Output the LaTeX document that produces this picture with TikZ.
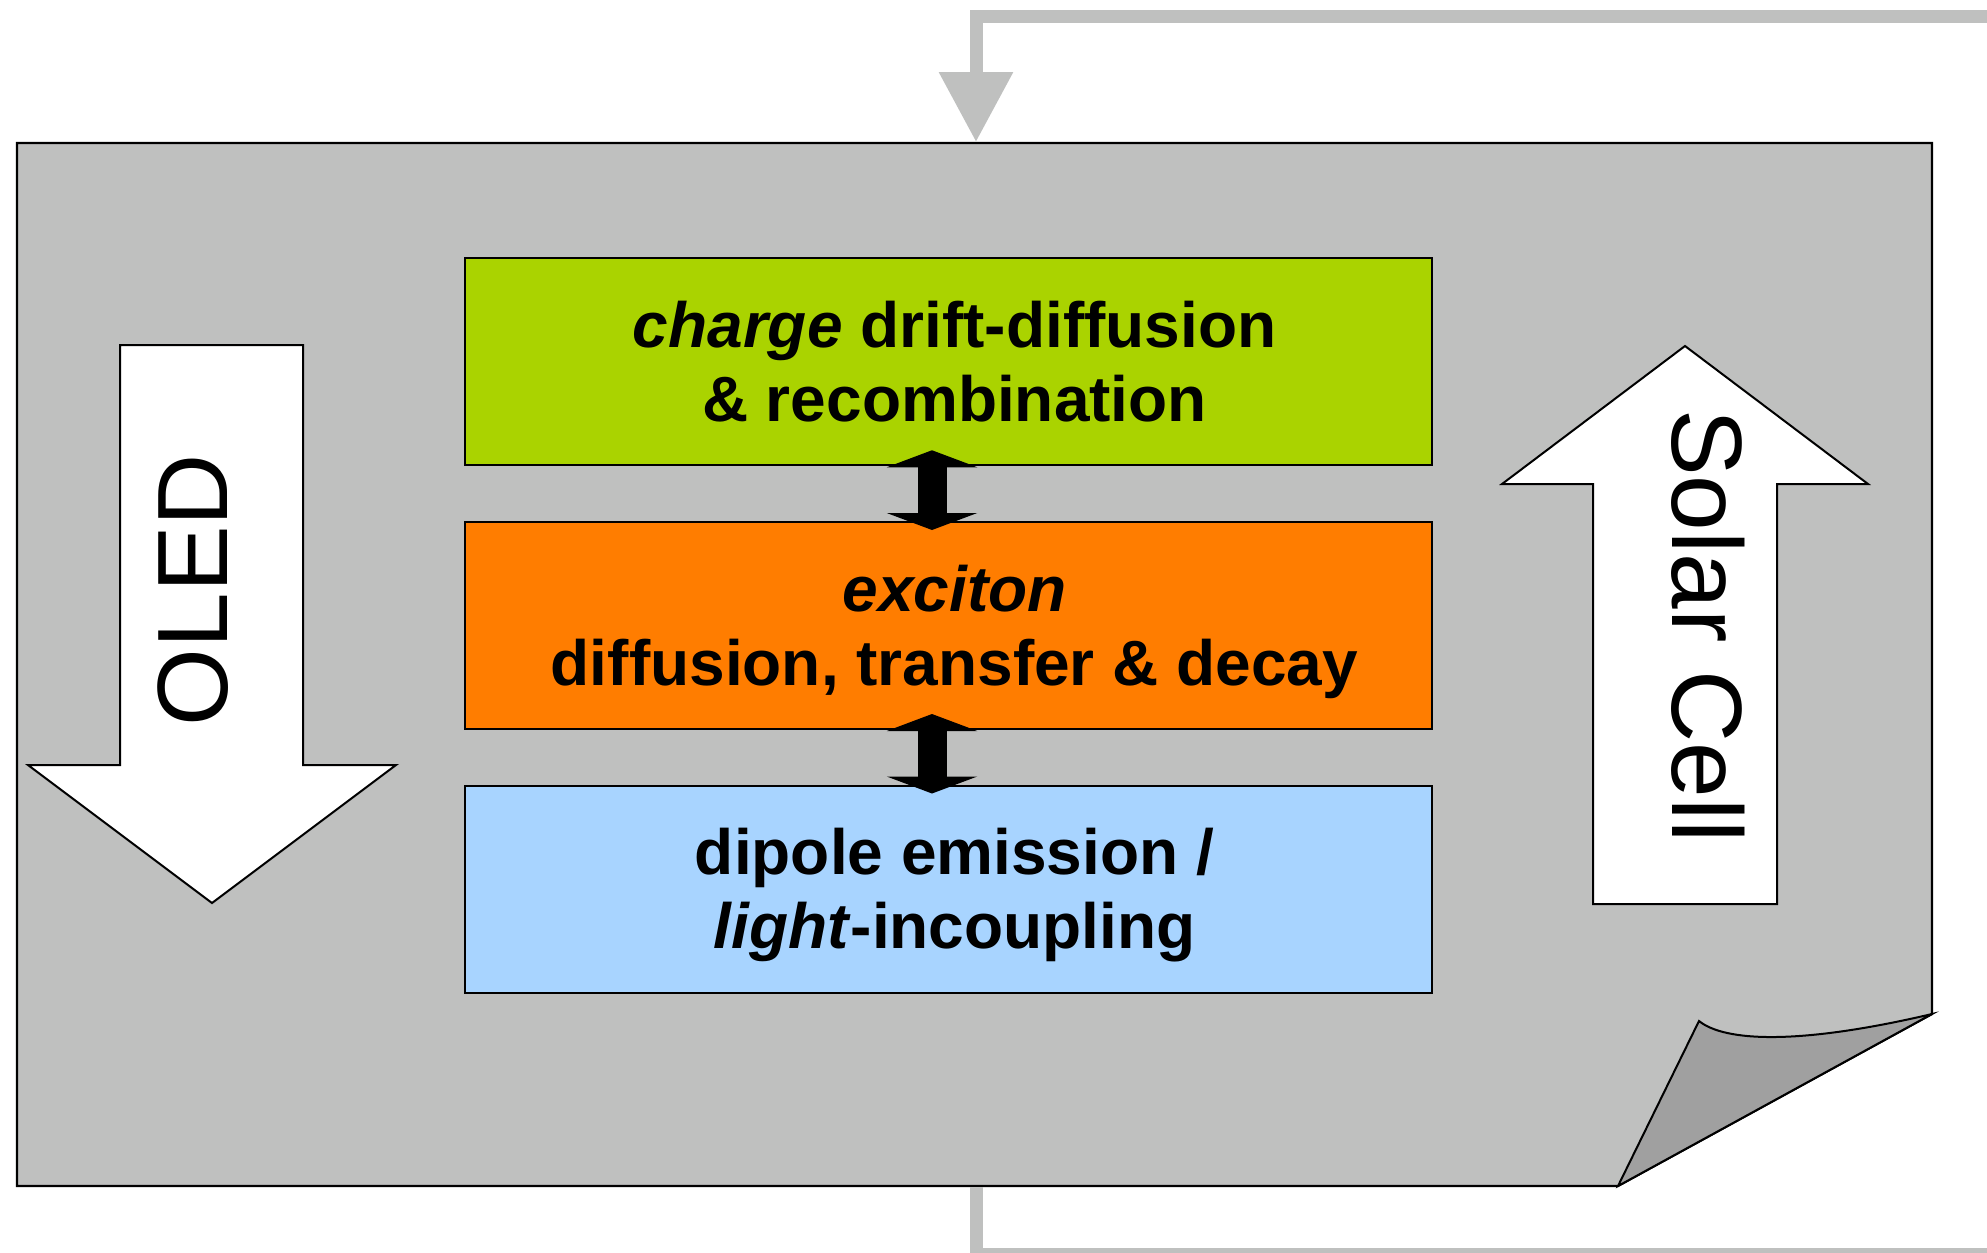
\documentclass[tikz,border=0pt]{standalone}
\usepackage{fontspec}
\setmainfont{Liberation Sans}
\usetikzlibrary{arrows.meta,calc}
\definecolor{sheetgray}{RGB}{191,192,191}
\definecolor{curlgray}{RGB}{160,160,160}
\definecolor{cgreen}{RGB}{170,211,0}
\definecolor{corange}{RGB}{255,125,0}
\definecolor{cblue}{RGB}{168,212,255}
\tikzset{
  boxstyle/.style={draw=black, line width=2pt, inner sep=0pt, minimum width=967pt, minimum height=207pt},
  boxtext/.style={inner sep=0pt, align=center, font=\fontsize{64}{74}\selectfont\bfseries, xshift=6pt, yshift=-8pt},
  conn/.style={draw=sheetgray, line width=13pt},
  bigarrow/.style={draw=black, fill=white, line width=2pt, line join=miter},
  dblarrow/.style={line width=29pt, {Triangle[length=17pt,width=90pt]}-{Triangle[length=17pt,width=90pt]}},
  sidetext/.style={inner sep=0pt, font=\fontsize{100}{110}\selectfont}
}
\begin{document}
\begin{tikzpicture}[x=1pt,y=-1pt]
\useasboundingbox (0,0) rectangle (1987,1253);
% sheet
\draw[fill=sheetgray, line width=2.2pt] (17,143) -- (1932,143) -- (1932,1014) -- (1618,1186) -- (17,1186) -- cycle;
% curl
\draw[fill=curlgray, line width=2pt, line join=miter] (1618,1186) -- (1699,1021) .. controls (1725,1042) and (1800,1045) .. (1932,1014) -- cycle;
% connectors
\coordinate (topR) at (2010,16);
\coordinate (topC) at (976,16);
\coordinate (sheetTop) at (976,142);
\coordinate (sheetBot) at (976,1187);
\coordinate (botC) at (976,1254);
\coordinate (botR) at (2010,1254);
\draw[conn, -{Triangle[length=70pt,width=71pt]}] (topR) -- (topC) -- (sheetTop);
\draw[conn] (sheetBot) -- (botC) -- (botR);
% big arrows
\draw[bigarrow] (120,345) -- (303,345) -- (303,765) -- (396,765) -- (212,903) -- (28,765) -- (120,765) -- cycle;
\draw[bigarrow] (1593,904) -- (1777,904) -- (1777,484) -- (1868,484) -- (1685,346) -- (1502,484) -- (1593,484) -- cycle;
\node[sidetext, rotate=90] (oled) at (193,590) {OLED};
\node[sidetext, rotate=-90] (solar) at (1708,626) {Solar Cell};
% boxes
\node[boxstyle, fill=cgreen] (g) at (948.5,361.75) {};
\node[boxstyle, fill=corange] (o) at (948.5,625.5) {};
\node[boxstyle, fill=cblue] (b) at (948.5,889) {};
\node[boxtext] (gt) at (g.center) {\strut\textit{charge} drift-diffusion\\\strut\& recombination};
\node[boxtext] (ot) at (o.center) {\strut\textit{exciton}\\\strut diffusion, transfer \& decay};
\node[boxtext] (bt) at (b.center) {\strut dipole emission /\\\strut\textit{light}-incoupling};
% double arrows
\draw[dblarrow] ([xshift=-16.5pt,yshift=16pt]g.south) -- ([xshift=-16.5pt,yshift=-9pt]o.north);
\draw[dblarrow] ([xshift=-16.5pt,yshift=16pt]o.south) -- ([xshift=-16.5pt,yshift=-9pt]b.north);
\end{tikzpicture}
\end{document}
